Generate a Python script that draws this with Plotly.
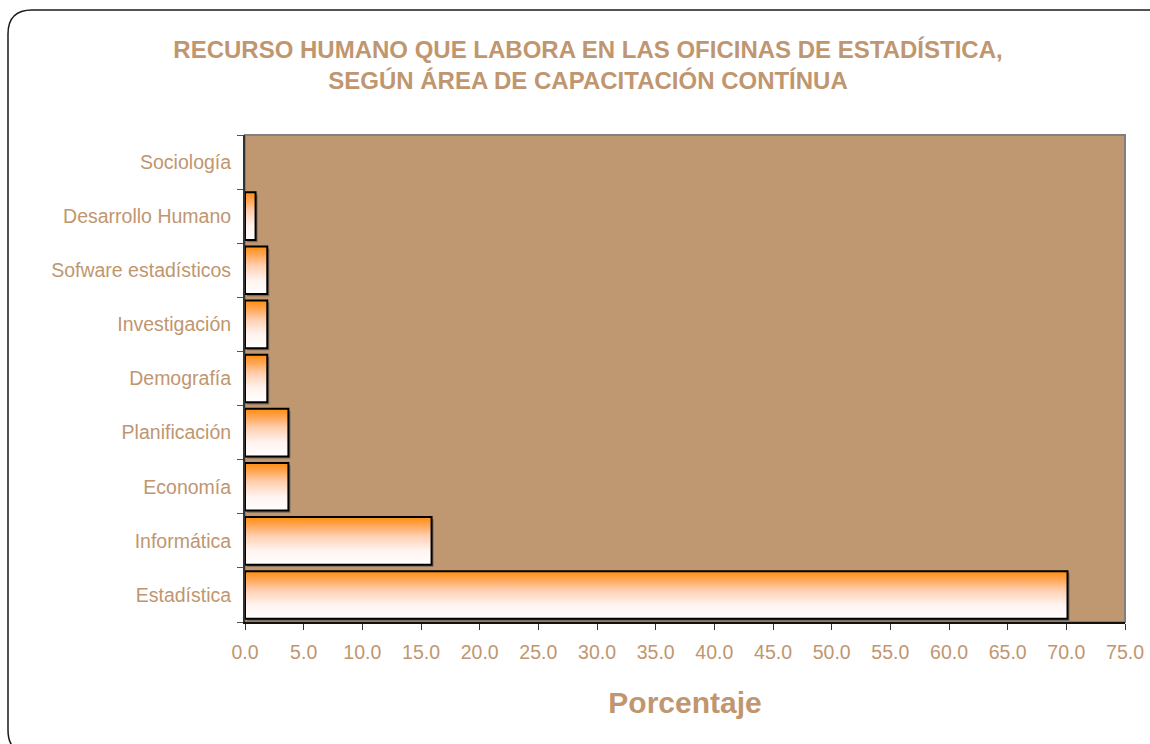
import plotly.graph_objects as go

# ---------------- data ----------------
categories = ["Estadística", "Informática", "Economía", "Planificación", "Demografía",
              "Investigación", "Sofware estadísticos", "Desarrollo Humano", "Sociología"]
values = [70.1, 15.9, 3.7, 3.7, 1.9, 1.9, 1.9, 0.9, 0.0]
x_tick_values = [0, 5, 10, 15, 20, 25, 30, 35, 40, 45, 50, 55, 60, 65, 70, 75]
title_text = "RECURSO HUMANO QUE LABORA EN LAS OFICINAS DE ESTADÍSTICA,<br>SEGÚN ÁREA DE CAPACITACIÓN CONTÍNUA"
x_title = "Porcentaje"

# ---------------- style ----------------
W, H = 1150, 744
ML, MR, MT, MB = 245, 25, 135, 122
TXT = "#C09670"
BG = "#BF9771"
FONT = "Arial, 'Liberation Sans', sans-serif"
HALF = 0.44          # half bar thickness in category units
SDX, SDY = 0.17, 0.04  # shadow offset in axis units

grad = dict(type="vertical",
            colorscale=[[0, "#ffffff"], [0.3, "#fff3ef"], [0.6, "#ffcfb0"],
                        [0.85, "#ffa24c"], [1, "#ff8f0c"]])

fig = go.Figure()
for i, (cat, v) in enumerate(zip(categories, values)):
    if v <= 0:
        continue
    # shadow
    fig.add_trace(go.Scatter(
        x=[SDX, v + SDX, v + SDX, SDX, SDX],
        y=[i - HALF - SDY, i - HALF - SDY, i + HALF - SDY, i + HALF - SDY, i - HALF - SDY],
        mode="lines", fill="toself", fillcolor="rgba(70,70,70,0.55)",
        line=dict(width=0), hoverinfo="skip", showlegend=False))
    # bar
    fig.add_trace(go.Scatter(
        x=[0, v, v, 0, 0],
        y=[i - HALF, i - HALF, i + HALF, i + HALF, i - HALF],
        mode="lines", fill="toself", fillgradient=grad,
        line=dict(color="#000000", width=2),
        name=cat, hoverinfo="text", text=f"{cat}: {v:.1f}", showlegend=False))


def px(x, y):
    return (x - ML) / (W - ML - MR), (H - MB - y) / (H - MT - MB)


# rounded outer frame
r = 24
x0, y0, x1, y1 = 8, 10, 1172, 754
pts = [
    ("M", [(x0 + r, y0)]),
    ("L", [(x1 - r, y0)]),
    ("Q", [(x1, y0), (x1, y0 + r)]),
    ("L", [(x1, y1 - r)]),
    ("Q", [(x1, y1), (x1 - r, y1)]),
    ("L", [(x0 + r, y1)]),
    ("Q", [(x0, y1), (x0, y1 - r)]),
    ("L", [(x0, y0 + r)]),
    ("Q", [(x0, y0), (x0 + r, y0)]),
]
path = ""
for cmd, ps in pts:
    path += cmd + " " + " ".join(f"{px(a, b)[0]:.5f},{px(a, b)[1]:.5f}" for a, b in ps) + " "
path += "Z"

fig.update_layout(
    width=W, height=H, autosize=False,
    margin=dict(l=ML, r=MR, t=MT, b=MB, autoexpand=False),
    paper_bgcolor="white", plot_bgcolor=BG,
    font=dict(family=FONT, color=TXT, size=19),
    title=dict(text=f"<b>{title_text}</b>", x=588 / W, xanchor="center",
               y=1 - 58 / H, yanchor="top", automargin=False,
               font=dict(family=FONT, size=24, color=TXT)),
    shapes=[
        dict(type="path", path=path, xref="paper", yref="paper",
             line=dict(color="#1a1a1a", width=1.5), layer="below"),
        dict(type="rect", xref="paper", yref="paper", x0=0, x1=1, y0=0, y1=1,
             line=dict(color="#808080", width=2), layer="below"),
    ],
    xaxis=dict(range=[0, 75], tickvals=x_tick_values, tickformat=".1f",
               ticks="outside", ticklen=6, tickwidth=1, tickcolor="#333",
               showline=True, linecolor="#111", linewidth=2, automargin=False,
               showgrid=False, zeroline=False, ticklabelstandoff=6,
               tickfont=dict(size=19.5, color=TXT),
               title=dict(text=f"<b>{x_title}</b>", font=dict(size=30, color=TXT), standoff=30)),
    yaxis=dict(range=[-0.5, len(categories) - 0.5],
               tickmode="array", tickvals=list(range(len(categories))), ticktext=categories,
               ticks="", showline=True, linecolor="#333", linewidth=2, automargin=False,
               showgrid=False, zeroline=False, ticklabelstandoff=8,
               tickfont=dict(size=19.5, color=TXT),
               minor=dict(tickmode="array",
                          tickvals=[k - 0.5 for k in range(len(categories) + 1)],
                          ticks="outside", ticklen=6, tickcolor="#555", showgrid=False)),
)

fig.write_html("out.html", config={"displayModeBar": False},
               post_script="document.body.style.margin='0px';")
